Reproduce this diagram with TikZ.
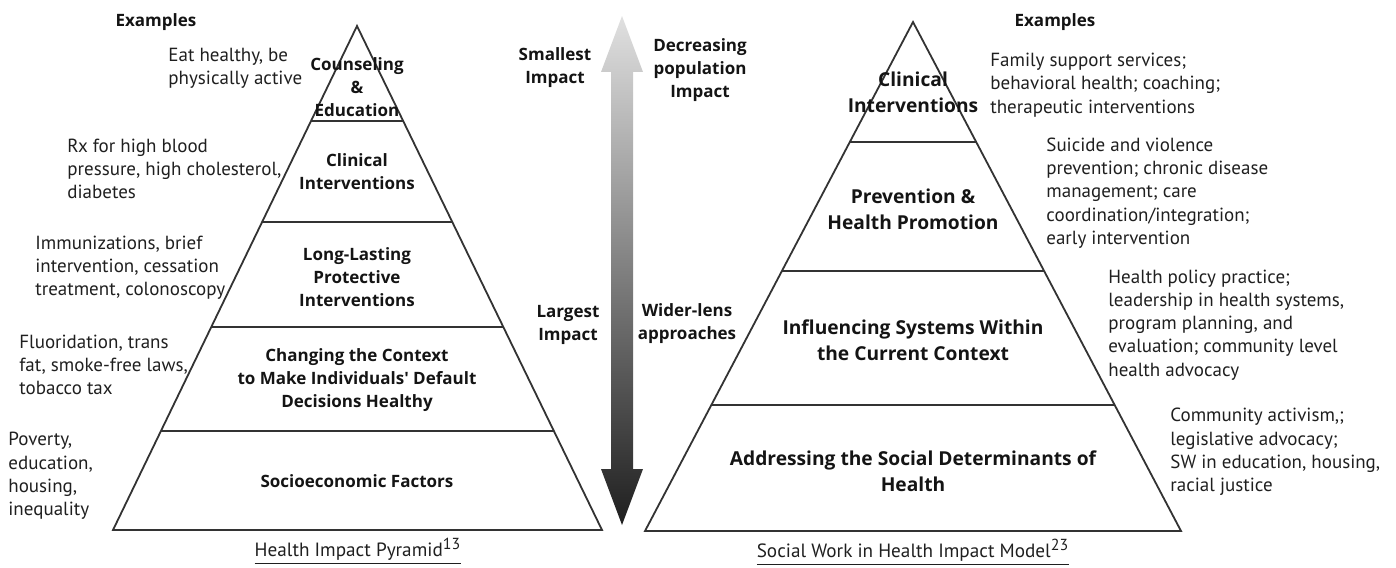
\documentclass[tikz,border=0pt]{standalone}
\usepackage{fontspec}
\setmainfont{PT Sans}
\newfontfamily\tierfam{Open Sans}
\usetikzlibrary{calc}

\tikzset{
  tier/.style={font=\tierfam\bfseries\fontsize{8.5}{11.5}\selectfont, align=center, inner sep=0pt, text=black!92},
  bigtier/.style={tier, font=\tierfam\bfseries\fontsize{9.6}{13}\selectfont},
  example/.style={font=\fontsize{9.5}{11.6}\selectfont, align=left, anchor=west, inner sep=0pt, text=black!88},
  caption/.style={font=\fontsize{9.6}{11.6}\selectfont, inner sep=0pt, text=black!88},
  level/.style={line width=0.9pt, draw=black!80},
}

\begin{document}
\begin{tikzpicture}[x=0.5pt, y=-0.5pt]
    \useasboundingbox (0,0) rectangle (1396,567);

    % health impact pyramid
    \coordinate (lTop) at (357,26);
    \coordinate (lLeft) at (113,530);
    \coordinate (lRight) at (602,530);
    \draw[level] (lTop) -- (lLeft) -- (lRight) -- cycle;
    \foreach \t in {0.1885,0.3889,0.5972,0.8036}
        \draw[level] ($(lTop)!\t!(lLeft)$) -- ($(lTop)!\t!(lRight)$);

    \node[tier] (counsel) at (357,87) {Counseling\\\&\\Education};
    \node[tier] (clinL) at (357,172) {Clinical\\Interventions};
    \node[tier] (lasting) at (357,277) {Long-Lasting\\Protective\\Interventions};
    \node[tier] (context) at (357,380) {Changing the Context\\to Make Individuals' Default\\Decisions Healthy};
    \node[tier] (socio) at (357,481) {Socioeconomic Factors};

    \node[tier] (exL) at (156,22) {Examples};
    \node[example] (eat) at (168,68) {Eat healthy, be\\physically active};
    \node[example] (rx) at (67,169) {Rx for high blood\\pressure, high cholesterol,\\diabetes};
    \node[example] (immun) at (35,268) {Immunizations, brief\\intervention, cessation\\treatment, colonoscopy};
    \node[example] (fluor) at (19,365) {Fluoridation, trans\\fat, smoke-free laws,\\tobacco tax};
    \node[example] (poverty) at (8,476) {Poverty,\\education,\\housing,\\inequality};

    \node[caption] (capL) at (358,551) {\underline{Health Impact Pyramid\textsuperscript{\fontsize{8}{8}\selectfont 13}}};

    % impact arrow
    \shade[top color=black!12, bottom color=black!88]
        (622,16) -- (643,72) -- (633,72) -- (633,469) -- (643,469) -- (622,525)
        -- (601,469) -- (611,469) -- (611,72) -- (601,72) -- cycle;
    \node[tier] (smallest) at (555,68) {Smallest\\Impact};
    \node[tier] (largest) at (568,325) {Largest\\Impact};
    \node[tier] (decreasing) at (700,70) {Decreasing\\population\\Impact};
    \node[tier] (wider) at (687,324) {Wider-lens\\approaches};

    % social work pyramid
    \coordinate (rTop) at (913,22);
    \coordinate (rLeft) at (645,531);
    \coordinate (rRight) at (1181,531);
    \draw[level] (rTop) -- (rLeft) -- (rRight) -- cycle;
    \foreach \t in {0.2358,0.4892,0.7525}
        \draw[level] ($(rTop)!\t!(rLeft)$) -- ($(rTop)!\t!(rRight)$);

    \node[bigtier] (clinR) at (913,92) {Clinical\\Interventions};
    \node[bigtier] (prevent) at (913,209) {Prevention \&\\Health Promotion};
    \node[bigtier] (systems) at (913,340) {Influencing Systems Within\\the Current Context};
    \node[bigtier] (determ) at (913,471) {Addressing the Social Determinants of\\Health};

    \node[tier] (exR) at (1055,22) {Examples};
    \node[example] (family) at (990,85) {Family support services;\\behavioral health; coaching;\\therapeutic interventions};
    \node[example] (suicide) at (1046,193) {Suicide and violence\\prevention; chronic disease\\management; care\\coordination/integration;\\early intervention};
    \node[example] (policy) at (1108,325) {Health policy practice;\\leadership in health systems,\\program planning, and\\evaluation; community level\\health advocacy};
    \node[example] (activism) at (1170,452) {Community activism,;\\legislative advocacy;\\SW in education, housing,\\racial justice};

    \node[caption] (capR) at (913,552) {\underline{Social Work in Health Impact Model\textsuperscript{\fontsize{8}{8}\selectfont 23}}};
\end{tikzpicture}
\end{document}
